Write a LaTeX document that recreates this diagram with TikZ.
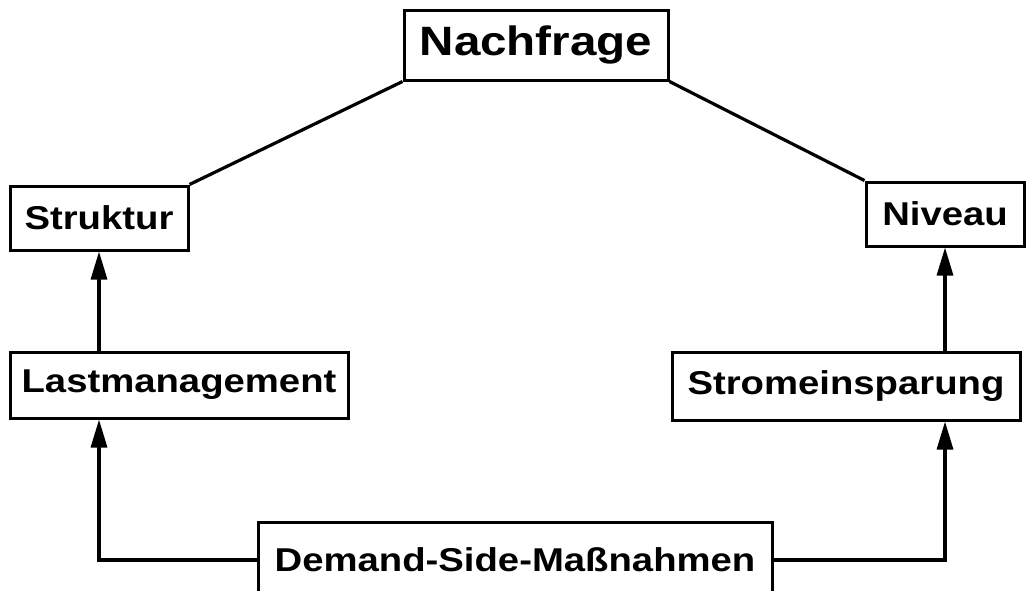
\documentclass[tikz,border=0pt]{standalone}
\usepackage{fontspec}
\setmainfont{Liberation Sans}[FakeStretch=1.16]
\usepackage{tikz}
\usetikzlibrary{positioning,arrows.meta,calc}
\tikzset{
  box/.style={draw=black, line width=1.5pt, fill=white, align=center, inner sep=0pt, font=\fontsize{16.5}{19}\selectfont\bfseries},
  arr/.style={-{Triangle[length=14pt,width=8pt]}, line width=1.6pt, draw=black},
  con/.style={line width=1.6pt, draw=black},
}
\begin{document}
\begin{tikzpicture}[x=0.5pt,y=-0.5pt]
    \useasboundingbox (0,0) rectangle (1026,590);
    \node[box, minimum width=132pt, minimum height=35pt, font=\fontsize{20.5}{24}\selectfont\bfseries] (nach) at (536,45) {Nachfrage};
    \node[box, minimum width=89pt, minimum height=32pt] (struk) at (99,218) {Struktur};
    \node[box, minimum width=79pt, minimum height=32pt] (niv) at (945,214) {Niveau};
    \node[box, minimum width=169pt, minimum height=33pt] (last) at (179,385) {Lastmanagement};
    \node[box, minimum width=174pt, minimum height=34pt] (strom) at (846,386) {Stromeinsparung};
    \node[box, minimum width=257pt, minimum height=38pt] (dsm) at (515,560) {Demand-Side-Maßnahmen};
    \draw[con] (nach.south west) -- (struk.north east);
    \draw[con] (nach.south east) -- (niv.north west);
    \draw[arr] (struk.south |- last.north) -- (struk.south);
    \draw[arr] (niv.south |- strom.north) -- (niv.south);
    \draw[arr] (dsm.west) -| (struk.south |- last.south);
    \draw[arr] (dsm.east) -| (niv.south |- strom.south);
  \end{tikzpicture}
\end{document}
